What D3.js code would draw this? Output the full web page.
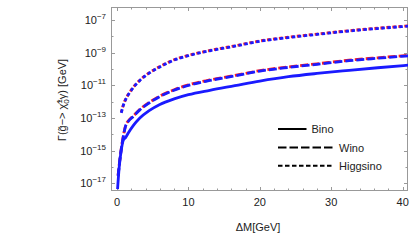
<!DOCTYPE html>
<html>
<head>
<meta charset="utf-8">
<script src="https://cdn.jsdelivr.net/npm/d3@7"></script>
<style>
  body { margin: 0; background: #fff; }
  svg { display: block; font-family: "Liberation Sans", Arial, sans-serif; }
  .lbl { fill: #222; font-size: 11px; }
</style>
</head>
<body>
<svg id="chart" width="415" height="240"></svg>
<script>
// values, log10(Gamma / GeV) against Delta M in GeV
const binoDM = [0.08, 0.3, 0.6, 0.9, 1.2, 1.6, 2.3, 3.2, 4.5, 6, 8, 10, 13, 16.5, 20, 24, 28, 32.5, 36.5, 40.8];
const binoLogG = [-17.35, -16.05, -14.96, -14.35, -14.2, -13.9, -13.45, -13.0, -12.55, -12.17, -11.83, -11.57, -11.3, -11.02, -10.74, -10.47, -10.27, -10.08, -9.92, -9.76];

const winoDM = [0.15, 0.35, 0.6, 0.9, 1.2, 1.6, 2.3, 3.2, 4.5, 6, 8, 10, 13, 16.5, 20, 24, 28, 32.5, 36.5, 40.8];
const winoLogG = [-16.55, -15.75, -14.9, -14.1, -13.5, -13.2, -12.9, -12.5, -12.08, -11.68, -11.3, -11.0, -10.7, -10.42, -10.13, -9.9, -9.71, -9.49, -9.34, -9.19];
const winoRedLogG = [-16.52, -15.72, -14.87, -14.07, -13.47, -13.17, -12.87, -12.47, -12.05, -11.65, -11.27, -10.97, -10.67, -10.39, -10.1, -9.87, -9.68, -9.46, -9.31, -9.16];

const higgsDM = [0.6, 0.9, 1.2, 1.8, 2.5, 3.2, 4.5, 6, 8, 10, 13, 16.5, 20, 24, 28, 32.5, 36.5, 40.8];
const higgsLogG = [-12.68, -12.2, -11.88, -11.43, -11.02, -10.7, -10.25, -9.87, -9.45, -9.18, -8.88, -8.6, -8.3, -8.07, -7.88, -7.67, -7.52, -7.37];
const higgsRedLogG = [-12.66, -12.18, -11.86, -11.41, -11.0, -10.68, -10.23, -9.85, -9.43, -9.16, -8.86, -8.58, -8.28, -8.05, -7.86, -7.65, -7.5, -7.35];

const xTicks = [0, 10, 20, 30, 40];
const yTickExp = [-17, -15, -13, -11, -9, -7];
const legendNames = ['Bino', 'Wino', 'Higgsino'];

const svg = d3.select('#chart');
const box = { left: 111, right: 408, top: 7, bottom: 191 };

const x = d3.scaleLinear().domain([-0.84, 40.75]).range([box.left, box.right]);
const y = d3.scaleLog().domain([Math.pow(10, -17.47), Math.pow(10, -6.2)]).range([box.bottom, box.top]);

svg.append('clipPath').attr('id', 'clip')
  .append('rect')
  .attr('x', box.left).attr('y', box.top)
  .attr('width', box.right - box.left).attr('height', box.bottom - box.top);

// frame ticks, pointing inwards on all four sides
const frame = svg.append('g').attr('stroke', '#999').attr('stroke-width', 1);
d3.range(0, 41, 2).forEach(v => {
  const len = v % 10 === 0 ? 4 : 2.5;
  const px = Math.round(x(v)) + 0.5;
  frame.append('line').attr('x1', px).attr('x2', px).attr('y1', box.bottom).attr('y2', box.bottom - len);
  frame.append('line').attr('x1', px).attr('x2', px).attr('y1', box.top).attr('y2', box.top + len);
});
d3.range(-17, -6).forEach(e => {
  const len = e % 2 !== 0 ? 4 : 2.5;
  const py = Math.round(y(Math.pow(10, e))) + 0.5;
  frame.append('line').attr('x1', box.left).attr('x2', box.left + len).attr('y1', py).attr('y2', py);
  frame.append('line').attr('x1', box.right).attr('x2', box.right - len).attr('y1', py).attr('y2', py);
});
svg.append('rect')
  .attr('x', box.left + 0.5).attr('y', box.top + 0.5)
  .attr('width', box.right - box.left - 1).attr('height', box.bottom - box.top - 1)
  .attr('fill', 'none').attr('stroke', '#999');

// tick labels
svg.append('g').selectAll('text').data(xTicks).join('text')
  .attr('class', 'lbl')
  .attr('x', d => x(d)).attr('y', 206)
  .attr('text-anchor', 'middle')
  .text(d => d);

const yl = svg.append('g').selectAll('text').data(yTickExp).join('text')
  .attr('class', 'lbl')
  .attr('x', 106).attr('y', d => y(Math.pow(10, d)) + 4)
  .attr('text-anchor', 'end');
yl.append('tspan').text('10');
yl.append('tspan').attr('font-size', 8).attr('dy', -5).text(d => '\u2212' + (-d));

// axis titles
svg.append('text').attr('class', 'lbl')
  .attr('x', 258).attr('y', 231).attr('text-anchor', 'middle')
  .text('\u0394M[GeV]');

const yt = svg.append('text').attr('class', 'lbl')
  .attr('transform', 'translate(66,100) rotate(-90)')
  .attr('text-anchor', 'middle');
yt.append('tspan').text('\u0393(g\u0303\u2212> \u03c7\u0303');
yt.append('tspan').attr('font-size', 8).attr('dy', -4).text('1');
yt.append('tspan').attr('font-size', 8).attr('dx', -4.5).attr('dy', 7).text('0');
yt.append('tspan').attr('dy', -3).text('\u03b3) [GeV]');

// curves
const line = d3.line()
  .x(d => x(d[0]))
  .y(d => y(Math.pow(10, d[1])))
  .curve(d3.curveMonotoneX);

const plot = svg.append('g').attr('clip-path', 'url(#clip)').attr('fill', 'none').attr('stroke-width', 2.8);

const series = [
  { dm: winoDM, v: winoRedLogG, color: '#ff2020', dash: '8,3', offset: 1.5 },
  { dm: higgsDM, v: higgsRedLogG, color: '#ff2020', dash: '3.5,2.5', offset: 1 },
  { dm: binoDM, v: binoLogG, color: '#1a1aff', dash: null, offset: 0 },
  { dm: winoDM, v: winoLogG, color: '#1a1aff', dash: '8,3', offset: 0 },
  { dm: higgsDM, v: higgsLogG, color: '#1a1aff', dash: '3.5,2.5', offset: 0 }
];
series.forEach(s => {
  plot.append('path')
    .datum(s.dm.map((d, i) => [d, s.v[i]]))
    .attr('d', line)
    .attr('stroke', s.color)
    .attr('stroke-dasharray', s.dash)
    .attr('stroke-dashoffset', s.offset);
});

// legend
const legY = [129, 147.5, 165.7];
const legEnd = [306.5, 333, 333];
const legText = [311.5, 339, 339];
const legDash = [null, '8.5,3', '4.5,2.5'];
const leg = svg.append('g');
legendNames.forEach((name, i) => {
  leg.append('line')
    .attr('x1', 278).attr('x2', legEnd[i])
    .attr('y1', legY[i]).attr('y2', legY[i])
    .attr('stroke', '#000').attr('stroke-width', 2)
    .attr('stroke-dasharray', legDash[i]);
  leg.append('text').attr('class', 'lbl')
    .attr('x', legText[i]).attr('y', legY[i] + 4)
    .attr('font-size', 11.5)
    .text(name);
});
</script>
</body>
</html>
